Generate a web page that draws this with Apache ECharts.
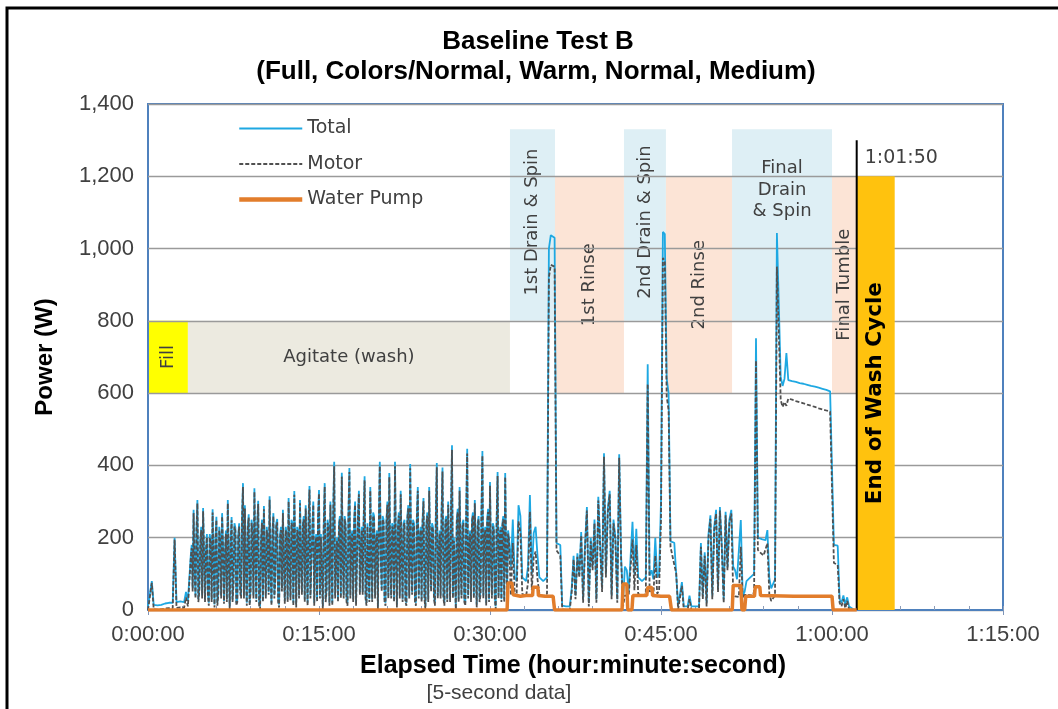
<!DOCTYPE html>
<html><head><meta charset="utf-8">
<script src="https://cdn.jsdelivr.net/npm/echarts/dist/echarts.min.js"></script>
<style>html,body{margin:0;padding:0;background:#fff}#chart{width:1058px;height:709px}</style>
</head><body><div id="chart"></div>
<script>
// ---------- DATA ----------
// readings are stored in three runs: fill (10 s), agitate (5 s), rest of cycle (10 s)
const runStartS = [0, 220, 1910];
const runStepS  = [10, 5, 10];

const fillTotalW = [10,12,80,14,12,13,12,14,16,18,16,20,18,20,200,22,20,24,20,22,50,25];
const fillMotorW = [0,0,75,2,0,1,0,2,3,4,3,5,4,5,195,6,5,7,5,6,35,10];

const agitateTotalW = [
  20,150,180,60,277,120,40,220,304,30,60,190,230,40,282,160,30,170,210,50,
  20,210,190,30,279,140,15,200,258,20,50,230,200,40,268,180,25,160,220,30,
  304,150,10,190,257,30,80,240,228,20,30,210,240,60,40,260,351,40,290,120,
  20,230,265,20,60,250,220,40,337,160,30,240,302,20,10,200,250,30,288,150,
  40,230,200,50,315,120,20,220,268,40,90,240,252,30,15,210,230,60,277,140,
  25,230,210,30,310,140,35,250,240,20,329,160,15,230,220,40,304,150,50,240,
  260,30,290,150,20,250,343,40,40,230,300,20,180,210,30,260,332,40,210,120,
  10,240,351,30,60,250,230,20,300,150,20,280,410,40,150,200,30,240,260,40,
  380,150,40,260,240,30,20,270,393,40,200,220,30,250,300,20,15,260,330,50,
  180,230,50,250,370,40,20,240,240,30,340,160,30,270,260,40,200,220,10,250,
  410,150,60,260,250,30,20,250,300,40,379,150,40,240,230,30,410,160,15,230,
  270,40,330,160,30,240,250,30,20,260,290,40,404,150,50,250,240,30,20,260,
  340,40,200,230,30,250,310,40,10,240,270,30,340,160,60,240,230,40,20,270,
  407,40,150,220,40,270,394,40,20,250,260,30,300,150,30,280,456,40,200,120,
  10,250,280,30,340,150,40,240,250,30,20,280,446,40,180,220,30,250,270,40,
  304,150,15,240,260,30,50,270,440,40,210,230,20,250,280,30,354,150,40,240,
  230,40,10,250,382,40,200,230,30,240,260,30,379,150,60,220,200
];
const agitateMotorW = [
  12,141,171,51,268,111,32,211,295,22,51,181,221,32,273,151,22,161,201,42,
  12,201,181,22,270,131,7,191,249,12,42,221,191,32,259,171,17,151,211,22,
  295,141,2,181,248,22,71,231,219,12,22,201,231,51,32,251,340,32,281,111,
  12,221,256,12,51,241,211,32,327,151,22,231,293,12,2,191,241,22,279,141,
  32,221,191,42,305,111,12,211,259,32,81,231,243,22,7,201,221,51,268,131,
  17,221,201,22,300,131,27,241,231,12,319,151,7,221,211,32,295,141,42,231,
  251,22,281,141,12,241,333,32,32,221,291,12,171,201,22,251,322,32,201,111,
  2,231,341,22,51,241,221,12,291,141,12,271,398,32,141,191,22,231,251,32,
  369,141,32,251,231,22,12,261,382,32,191,211,22,241,291,12,7,251,320,42,
  171,221,42,241,359,32,12,231,231,22,330,151,22,261,251,32,191,211,2,241,
  398,141,51,251,241,22,12,241,291,32,368,141,32,231,221,22,398,151,7,221,
  261,32,320,151,22,231,241,22,12,251,281,32,392,141,42,241,231,22,12,251,
  330,32,191,221,22,241,301,32,2,231,261,22,330,151,51,231,221,32,12,261,
  395,32,141,211,32,261,383,32,12,241,251,22,291,141,22,271,443,32,191,111,
  2,241,271,22,330,141,32,231,241,22,12,271,433,32,171,211,22,241,261,32,
  295,141,7,231,251,22,42,261,427,32,201,221,12,241,271,22,344,141,32,231,
  221,32,2,241,371,32,191,221,22,231,251,22,368,141,51,211,192
];

const restTotalW = [
  // 1st drain & spin 1910-2140 s
  120,250,90,80,290,260,90,85,80,120,318,100,213,230,150,90,85,80,85,90,1000,1037,1040,1030,
  // 1st rinse 2150-2500 s
  185,185,180,12,10,10,12,10,60,150,40,157,100,216,30,180,285,20,200,120,
  250,30,313,180,60,434,100,280,330,40,250,200,30,431,150,20,
  // 2nd drain & spin 2510-2780 s
  120,110,50,45,244,100,225,90,85,80,85,90,680,95,110,85,200,90,100,300,
  1046,1040,640,600,190,188,186,185,
  // 2nd rinse 2790-3070 s
  12,10,77,10,12,10,40,10,12,10,15,10,185,40,160,20,210,262,40,230,
  277,60,285,180,30,272,120,250,277,
  // final drain & spin 3080-3600 s
  120,110,85,80,249,40,50,80,85,90,85,100,752,200,198,196,195,193,221,88,
  60,55,85,1043,1040,645,620,640,711,
  636,634,633,632,631,630,628,627,626,625,623,622,620,619,618,616,615,613,612,610,609,607,605,603,
  // final tumble 3610-3720 s
  180,180,178,30,20,40,15,35,10,5,3,0
];
const restMotorW = [
  40,185,45,38,245,215,45,42,38,75,272,55,145,162,85,45,42,38,42,45,920,955,958,950,
  165,160,150,2,0,0,2,0,50,140,30,147,90,206,20,170,275,10,190,110,
  240,20,303,170,50,424,90,270,320,30,240,190,20,421,140,10,
  40,35,40,35,195,55,180,45,42,38,42,45,625,50,60,40,150,45,55,250,
  974,965,590,553,175,150,125,102,
  2,0,67,0,2,0,30,0,2,0,5,0,175,30,150,10,200,252,30,220,
  267,50,275,170,20,262,110,240,267,
  45,38,40,36,175,32,42,38,42,45,40,50,690,166,160,155,151,147,185,45,
  25,20,40,950,945,581,562,575,565,
  585,583,582,580,578,577,575,573,572,570,568,567,565,563,562,560,558,557,555,553,552,550,549,548,
  130,128,125,20,10,30,5,25,2,0,0,0
];

const pumpTimeS = [0,1890,1895,1915,1922,1960,1990,2024,2027,2052,2055,2090,2132,2140,
  2495,2500,2520,2525,2547,2552,2625,2630,2652,2656,2700,2745,2755,
  3075,3080,3120,3126,3140,3146,3192,3196,3220,3224,3400,3600,3606,3730];
const pumpW = [0,0,75,75,42,38,40,40,63,63,40,38,38,0,
  0,72,72,0,0,40,40,62,62,40,38,38,0,
  0,68,68,0,0,38,38,64,64,40,38,38,0,0];

const phaseNames = ['Fill','Agitate (wash)','1st Drain & Spin','1st Rinse','2nd Drain & Spin','2nd Rinse','Final\nDrain\n& Spin','Final Tumble'];
const phaseStartS = [0,210,1905,2142,2505,2726,3074,3600];
const phaseEndS   = [210,1905,2142,2505,2726,3074,3600,3727];
const phaseLowW   = [600,600,800,600,800,600,800,600];
const phaseHighW  = [800,800,1330,1200,1330,1200,1330,1200];
const phaseKind   = ['fill','agitate','spin','rinse','spin','rinse','spin','rinse'];

const endCycleS = 3730, endCycleLabel = '1:01:50';
const endBandEndS = 3930, endBandTopW = 1200, endLineTopW = 1300;
const endBandLabel = 'End of Wash Cycle';

const xMaxS = 4500, xStepS = 900, xMinorS = 180;
const yMaxW = 1400, yStepW = 200;

// ---------- STYLE ----------
const phaseColor = {fill:'#FFFF00', agitate:'#ECEAE0', spin:'#DEEFF5', rinse:'#FCE4D6'};
const phaseRotated = [true,false,true,true,true,true,false,true];
const phaseLabelDy = [0,0,-3,0,-3,0,-35,0];
const SANS = "'Liberation Sans', Arial, sans-serif";
const VERD = "'DejaVu Sans', Verdana, sans-serif";
const C_TOTAL = '#1EA8E2', C_MOTOR = '#505050', C_PUMP = '#E27D2B';

function hms(v){const h=Math.floor(v/3600),m=Math.floor(v%3600/60),s=Math.round(v%60);
  return h+':'+String(m).padStart(2,'0')+':'+String(s).padStart(2,'0');}
function commas(v){return String(v).replace(/\B(?=(\d{3})+(?!\d))/g, ',');}
function toPairs(runs){
  const out = [];
  runs.forEach((arr, r)=>arr.forEach((v,i)=>out.push([runStartS[r] + i*runStepS[r], v])));
  return out;
}

const totalData = toPairs([fillTotalW, agitateTotalW, restTotalW]);
const motorData = toPairs([fillMotorW, agitateMotorW, restMotorW]);
const pumpData = pumpTimeS.map((t,i)=>[t, pumpW[i]]);
const phaseData = phaseStartS.map((s,i)=>[s, phaseEndS[i], phaseLowW[i], phaseHighW[i]]);

const chart = echarts.init(document.getElementById('chart'), null, {renderer:'canvas'});
chart.setOption({
  animation:false,
  backgroundColor:'#ffffff',
  grid:{left:148, right:55, top:104, bottom:99, show:true, borderColor:'#4F81BD', borderWidth:2,
        containLabel:false, outerBoundsMode:'none'},
  legend:{orient:'vertical', left:232, top:114,
    data:[{name:'Total', lineStyle:{width:2, color:C_TOTAL}},
          {name:'Motor', lineStyle:{width:2, color:C_MOTOR, type:[4,2]}},
          {name:'Water Pump', lineStyle:{width:4.5, color:C_PUMP}}],
    itemWidth:63, itemHeight:20, itemGap:16.5, selectedMode:false,
    itemStyle:{opacity:0, borderWidth:0},
    textStyle:{fontFamily:VERD, fontSize:19, color:'#404040'}},
  xAxis:[{type:'value', min:0, max:xMaxS, interval:xStepS, position:'bottom', offset:0,
    axisLine:{show:true, onZero:false, lineStyle:{color:'#4F81BD', width:2}},
    axisTick:{show:true, inside:false, length:5, lineStyle:{color:'#7F95B8'}},
    axisLabel:{formatter:hms, fontFamily:SANS, fontSize:22, color:'#404040', margin:14},
    splitLine:{show:false}},
   {type:'value', min:0, max:xMaxS, interval:xMinorS, position:'bottom', offset:0,
    axisLine:{show:false}, axisTick:{show:true, inside:true, length:4, lineStyle:{color:'#8C9CB8'}},
    axisLabel:{show:false}, splitLine:{show:false}}],
  yAxis:{type:'value', min:0, max:yMaxW, interval:yStepW,
    axisLine:{show:false}, axisTick:{show:false},
    axisLabel:{formatter:commas, fontFamily:SANS, fontSize:22, color:'#404040', margin:14},
    splitLine:{show:true, lineStyle:{color:'#9A9A9A', width:1.3}}},
  graphic:[
    {type:'rect', shape:{x:7, y:8, width:1200, height:900}, style:{fill:'none', stroke:'#000', lineWidth:3}, silent:true},
    {type:'text', x:538, y:42, style:{text:'Baseline Test B', font:"bold 26px "+SANS, fill:'#000', align:'center', verticalAlign:'middle'}},
    {type:'text', x:536, y:72, style:{text:'(Full, Colors/Normal, Warm, Normal, Medium)', font:"bold 26px "+SANS, fill:'#000', align:'center', verticalAlign:'middle'}},
    {type:'text', x:573, y:666, style:{text:'Elapsed Time (hour:minute:second)', font:"bold 25px "+SANS, fill:'#000', align:'center', verticalAlign:'middle'}},
    {type:'text', x:499, y:693, style:{text:'[5-second data]', font:"21px "+SANS, fill:'#404040', align:'center', verticalAlign:'middle'}},
    {type:'text', x:45, y:357, rotation:Math.PI/2, style:{text:'Power (W)', font:"bold 24px "+SANS, fill:'#000', align:'center', verticalAlign:'middle'}}
  ],
  series:[
    {type:'custom', name:'phases', z:-1, silent:true, data:phaseData, clip:false,
     renderItem:function(params, api){
       const i = params.dataIndex;
       const p0 = api.coord([api.value(0), api.value(3)]);
       const p1 = api.coord([api.value(1), api.value(2)]);
       const w = p1[0]-p0[0], h = p1[1]-p0[1];
       return {type:'group', children:[
         {type:'rect', shape:{x:p0[0], y:p0[1], width:w, height:h}, style:{fill:phaseColor[phaseKind[i]]}},
         {type:'text', x:p0[0]+w/2, y:p0[1]+h/2+phaseLabelDy[i], rotation: phaseRotated[i]?Math.PI/2:0,
          style:{text:phaseNames[i], font:"18px "+VERD, fill:'#404040', align:'center', verticalAlign:'middle', lineHeight:21.5}}
       ]};
     }},
    {type:'custom', name:'end', z:3, silent:true, data:[[endCycleS, endBandEndS, endBandTopW, endLineTopW]], clip:false,
     renderItem:function(params, api){
       const a = api.coord([api.value(0), 0]);
       const b = api.coord([api.value(1), api.value(2)]);
       const top = api.coord([api.value(0), api.value(3)]);
       return {type:'group', children:[
         {type:'rect', shape:{x:a[0], y:b[1], width:b[0]-a[0], height:a[1]-b[1]}, style:{fill:'#FFC20E'}},
         {type:'line', shape:{x1:a[0], y1:a[1], x2:a[0], y2:top[1]}, style:{stroke:'#000', lineWidth:2}},
         {type:'text', x:(a[0]+b[0])/2, y:(a[1]+b[1])/2, rotation:Math.PI/2,
          style:{text:endBandLabel, font:"bold 21.5px "+VERD, fill:'#000', align:'center', verticalAlign:'middle'}},
         {type:'text', x:a[0]+8, y:api.coord([0,1250])[1],
          style:{text:endCycleLabel, font:"19px "+VERD, fill:'#404040', align:'left', verticalAlign:'middle'}}
       ]};
     }},
    {type:'line', name:'Total', data:totalData, symbol:'none', z:4,
     lineStyle:{color:C_TOTAL, width:1.8}, itemStyle:{color:C_TOTAL}},
    {type:'line', name:'Motor', data:motorData, symbol:'none', z:5,
     lineStyle:{color:C_MOTOR, width:1.8, type:[4,2]}, itemStyle:{color:C_MOTOR}},
    {type:'line', name:'Water Pump', data:pumpData, symbol:'none', z:6,
     lineStyle:{color:C_PUMP, width:3.5}, itemStyle:{color:C_PUMP}}
  ]
});
</script></body></html>
